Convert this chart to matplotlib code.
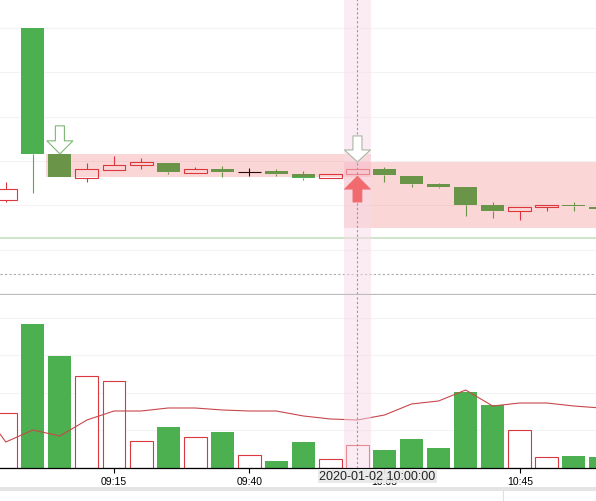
import matplotlib.pyplot as plt
import numpy as np

# 5-minute bars, index 0..22 (last one cut at right edge)
opens  = [12.424, 13.200, 12.632, 12.523, 12.559, 12.582, 12.591, 12.546, 12.564, 12.550, 12.555, 12.541,
          12.523, 12.541, 12.564, 12.532, 12.496, 12.483, 12.402, 12.374, 12.393, 12.402, 12.393]
highs  = [12.505, 13.200, 12.632, 12.591, 12.623, 12.614, 12.591, 12.573, 12.577, 12.568, 12.564, 12.555,
          12.541, 12.564, 12.573, 12.532, 12.501, 12.483, 12.415, 12.393, 12.402, 12.415, 12.393]
lows   = [12.415, 12.456, 12.528, 12.505, 12.559, 12.564, 12.541, 12.546, 12.528, 12.532, 12.532, 12.514,
          12.523, 12.541, 12.505, 12.483, 12.478, 12.352, 12.343, 12.334, 12.374, 12.374, 12.383]
closes = [12.474, 12.632, 12.528, 12.564, 12.582, 12.596, 12.550, 12.564, 12.550, 12.550, 12.541, 12.523,
          12.541, 12.564, 12.537, 12.496, 12.483, 12.402, 12.374, 12.393, 12.402, 12.397, 12.383]
volumes = [1467, 3840, 2987, 2453, 2320, 720, 1093, 827, 960, 347, 187, 693,
           240, 613, 480, 773, 533, 2027, 1680, 1013, 293, 320, 293]
# volume moving average, starts one bar before the first visible bar
vol_ma = [1680, 693, 1013, 853, 1280, 1520, 1520, 1600, 1600, 1547, 1520, 1520, 1387,
          1307, 1280, 1413, 1707, 1787, 2080, 1653, 1733, 1733, 1653, 1600]

tick_idx = [4, 9, 14, 19]
tick_lbl = ['09:15', '09:40', '10:05', '10:45']

# signals
sell_idx = [2, 13]
sell_px = [12.632, 12.596]
buy_idx = [13]
buy_px = [12.532]
# holding zones: (from, to, low, high)
zones = [(1.5, 13.5, 12.528, 12.632), (12.5, 23.0, 12.298, 12.596)]
stop_line = 12.253
cross_idx = 13
cross_px = 12.090
cross_label = '2020-01-02 10:00:00'

RED = '#d9393e'
GREEN = '#4caf50'

n = len(opens)
x = np.arange(n)
o = np.array(opens); c = np.array(closes); h = np.array(highs); l = np.array(lows)
up = c >= o
doji = c == o
top = np.maximum(o, c)
bot = np.minimum(o, c)

fig = plt.figure(figsize=(5.96, 5.02), dpi=100)
ax = fig.add_axes([0, 207 / 502, 1, 295 / 502])
av = fig.add_axes([0, 33 / 502, 1, 173 / 502])

xl = (-0.2144, 21.819)
W = 0.85

# price pane
for g in np.arange(12.2, 13.3, 0.2):
    ax.axhline(g, color='#f3f3f3', lw=0.8, zorder=0)
ax.vlines(x, top, h, color=np.where(doji, 'black', np.where(up, RED, GREEN)), lw=0.8, zorder=2)
ax.vlines(x, l, bot, color=np.where(doji, 'black', np.where(up, RED, GREEN)), lw=0.8, zorder=2)
for i in range(n):
    if doji[i]:
        ax.hlines(o[i], i - W / 2, i + W / 2, color='black', lw=0.8, zorder=2)
    elif up[i]:
        ax.bar(i, top[i] - bot[i], bottom=bot[i], width=W, facecolor='none', edgecolor=RED, lw=0.8, zorder=2)
    else:
        ax.bar(i, top[i] - bot[i], bottom=bot[i], width=W, facecolor=GREEN, edgecolor='none', zorder=2)

for z in zones:
    ax.fill_between([z[0], z[1]], z[2], z[3], color=(236 / 255, 42 / 255, 42 / 255), alpha=0.19, lw=0, zorder=3)

ax.axhline(stop_line, color='#c2dfbc', lw=1.1, zorder=1)
ax.axhline(cross_px, color='#aaaaaa', lw=0.8, ls=(0, (2, 2)), zorder=1)

for a in (ax, av):
    a.axvspan(cross_idx - 0.5, cross_idx + 0.5, color='#f8d8e8', alpha=0.5, lw=0, zorder=4)
    a.axvline(cross_idx, color='#999999', lw=0.8, ls=(0, (2, 2)), zorder=5)

# signal arrows
sty = 'simple,head_length=9.4,head_width=18.7,tail_width=6.5'
ax.annotate('', xy=(sell_idx[0], sell_px[0]), xytext=(0, 20.2), textcoords='offset points',
            arrowprops=dict(arrowstyle=sty, mutation_scale=1, fc='white', ec='#7db874', lw=0.8,
                            shrinkA=0, shrinkB=0), zorder=6)
ax.annotate('', xy=(sell_idx[1], sell_px[1]), xytext=(0, 18.7), textcoords='offset points',
            arrowprops=dict(arrowstyle='simple,head_length=8.6,head_width=18.7,tail_width=6.5',
                            mutation_scale=1, fc='white', ec='#a9b8a4', lw=0.8,
                            shrinkA=0, shrinkB=0), zorder=6)
ax.annotate('', xy=(buy_idx[0], buy_px[0]), xytext=(0, -18.7), textcoords='offset points',
            arrowprops=dict(arrowstyle=sty, mutation_scale=1, fc='#f06a6e', ec='#f06a6e', lw=0.5,
                            shrinkA=0, shrinkB=0), zorder=6)

ax.set_xlim(xl)
ax.set_ylim(12.0, 13.331)
ax.set_xticks([]); ax.set_yticks([])
for s in ['top', 'left', 'right']:
    ax.spines[s].set_visible(False)
ax.spines['bottom'].set_color('#bbbbbb')
ax.spines['bottom'].set_linewidth(0.9)

# volume pane
for g in [1000, 2000, 3000, 4000]:
    av.axhline(g, color='#f3f3f3', lw=0.8, zorder=0)
vol = np.array(volumes)
av.bar(x[up], vol[up], width=W, facecolor='white', edgecolor=RED, lw=0.8, zorder=2)
av.bar(x[~up], vol[~up], width=W, facecolor=GREEN, edgecolor='none', zorder=2)
av.plot(np.arange(-1, n), vol_ma, color='#c9474b', lw=0.8, zorder=3)
av.set_xlim(xl)
av.set_ylim(0, 4613)
av.set_yticks([])
av.set_xticks(tick_idx)
av.set_xticklabels(tick_lbl, family='Liberation Sans', fontsize=7.5)
av.tick_params(axis='x', length=3.6, width=0.8, pad=2.5, colors='black')
for s in ['top', 'left', 'right']:
    av.spines[s].set_visible(False)
av.spines['bottom'].set_linewidth(0.9)

# crosshair time label
fig.patches.append(plt.Rectangle((318 / 596, 1 - 484 / 502), 119 / 596, 14 / 502,
                                 transform=fig.transFigure, facecolor='#e9e9e9', alpha=0.92, lw=0, zorder=10))
fig.text(377 / 596, 1 - 477 / 502, cross_label, family='Liberation Sans', fontsize=9,
         ha='center', va='center', color='#222222', zorder=11)

# bottom scroller strip
fig.patches.append(plt.Rectangle((0, 1 - 492 / 502), 1, 4 / 502, transform=fig.transFigure,
                                 facecolor='#e4e4e4', lw=0))
fig.lines.append(plt.Line2D([503 / 596, 503 / 596], [0, 1 - 492 / 502], transform=fig.transFigure,
                            color='#e0e0e0', lw=0.8))

fig.savefig('out.png', dpi=100)
